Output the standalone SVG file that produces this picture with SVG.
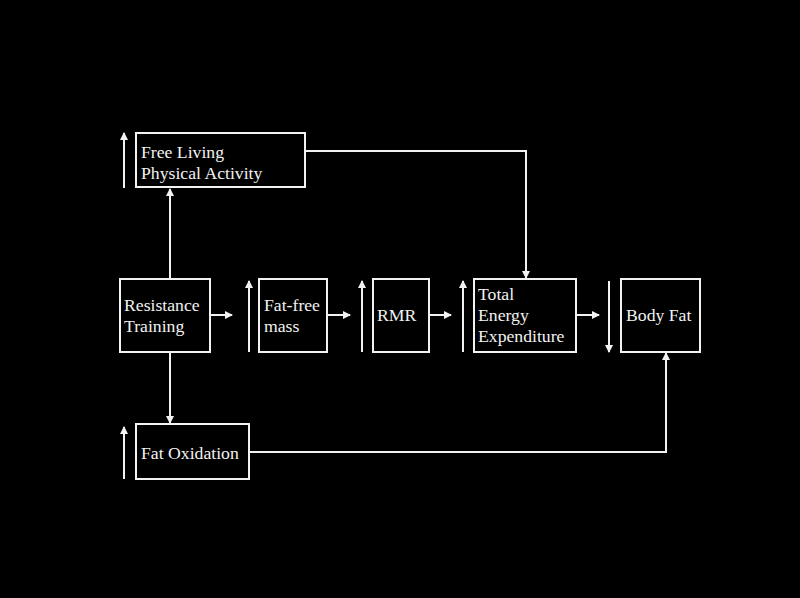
<svg xmlns="http://www.w3.org/2000/svg" width="800" height="598" viewBox="0 0 800 598">
<defs>
<marker id="ah" markerWidth="8" markerHeight="8" refX="7" refY="4" orient="auto" markerUnits="userSpaceOnUse">
<path d="M0,0 L8,4 L0,8 Z" fill="#f2f2f2"/>
</marker>
</defs>
<style>
.box{fill:#000;stroke:#f2f2f2;stroke-width:2}
.t{font-family:"Liberation Serif","Times New Roman",serif;font-size:17.7px;fill:#f2f2f2}
.c{fill:none;stroke:#f2f2f2;stroke-width:2;marker-end:url(#ah)}
.ind{fill:none;stroke:#f2f2f2;stroke-width:2;marker-end:url(#ah)}
</style>
<rect x="0" y="0" width="800" height="598" fill="#000"/>
<g id="connectors">
<path class="c" d="M170,279 V189"/>
<path class="c" d="M170,352 V423"/>
<path class="c" d="M305,151 H526 V278"/>
<path class="c" d="M249,452 H666 V353"/>
<path class="c" d="M211,315 H232"/>
<path class="c" d="M328,315 H350"/>
<path class="c" d="M430,315 H451"/>
<path class="c" d="M577,315 H599"/>
</g>
<g id="indicators">
<path class="ind" d="M124,188 V133"/>
<path class="ind" d="M249,352 V281"/>
<path class="ind" d="M362,352 V281"/>
<path class="ind" d="M463,352 V281"/>
<path class="ind" d="M609,281 V352"/>
<path class="ind" d="M124,479 V427"/>
</g>
<g id="free-living">
<rect class="box" x="136" y="133" width="169" height="54"/>
<text class="t" x="141" y="158">Free Living</text>
<text class="t" x="141" y="179">Physical Activity</text>
</g>
<g id="resistance-training">
<rect class="box" x="120" y="279" width="90" height="73"/>
<text class="t" x="124" y="311">Resistance</text>
<text class="t" x="124" y="332">Training</text>
</g>
<g id="fat-free-mass">
<rect class="box" x="259" y="279" width="68" height="73"/>
<text class="t" x="264" y="311">Fat-free</text>
<text class="t" x="264" y="332">mass</text>
</g>
<g id="rmr">
<rect class="box" x="373" y="279" width="56" height="73"/>
<text class="t" x="377" y="321">RMR</text>
</g>
<g id="tee">
<rect class="box" x="474" y="279" width="102" height="73"/>
<text class="t" x="478" y="300">Total</text>
<text class="t" x="478" y="321">Energy</text>
<text class="t" x="478" y="342">Expenditure</text>
</g>
<g id="body-fat">
<rect class="box" x="621" y="279" width="79" height="73"/>
<text class="t" x="626" y="321">Body Fat</text>
</g>
<g id="fat-oxidation">
<rect class="box" x="136" y="424" width="113" height="55"/>
<text class="t" x="141" y="459">Fat Oxidation</text>
</g>
</svg>
